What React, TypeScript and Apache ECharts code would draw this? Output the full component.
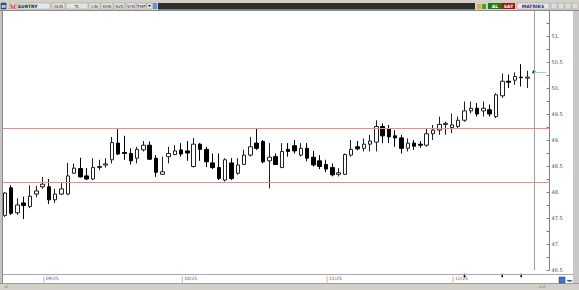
import React, { useEffect, useRef } from 'react';
import * as echarts from 'echarts';

const categories = [
  '22.08', '25.08', '26.08', '27.08', '28.08', '29.08',
  '01.09', '02.09', '03.09', '04.09', '05.09', '08.09', '09.09', '10.09', '11.09', '12.09', '15.09',
  '16.09', '17.09', '18.09', '19.09', '22.09', '23.09', '24.09', '25.09', '26.09', '29.09', '30.09',
  '01.10', '02.10', '03.10', '06.10', '07.10', '08.10', '09.10', '10.10', '13.10', '14.10', '15.10',
  '16.10', '17.10', '20.10', '21.10', '22.10', '23.10', '24.10', '27.10', '28.10', '29.10', '30.10', '31.10',
  '03.11', '04.11', '05.11', '06.11', '07.11', '10.11', '11.11', '12.11', '13.11', '14.11', '17.11',
  '18.11', '19.11', '20.11', '21.11', '24.11', '25.11', '26.11', '27.11', '28.11',
  '01.12', '02.12', '03.12', '04.12', '05.12', '08.12', '09.12', '10.12', '11.12', '12.12', '15.12',
  '16.12', '17.12', '18.12', '19.12', '22.12',
];

const opens = [
  47.55, 48.08, 47.6, 47.79, 47.72, 47.96,
  48.1, 48.1, 47.85, 47.96, 47.96, 48.36, 48.45, 48.31, 48.25, 48.47, 48.52,
  48.62, 48.94, 48.76, 48.74, 48.65, 48.81, 48.9, 48.65, 48.34, 48.68, 48.72,
  48.81, 48.79, 48.49, 48.92, 48.82, 48.56, 48.47, 48.23, 48.56, 48.36, 48.53,
  48.71, 48.94, 48.97, 48.6, 48.68, 48.47, 48.82, 48.89, 48.71, 48.84, 48.67, 48.6,
  48.53, 48.47, 48.34, 48.34, 48.71, 48.87, 48.84, 48.92, 48.96, 49.26, 49.21,
  49.08, 49.04, 48.84, 48.94, 48.92, 48.9, 49.12, 49.19, 49.3,
  49.24, 49.26, 49.38, 49.56, 49.61, 49.56, 49.58, 49.45, 49.85, 50.13, 50.15,
  50.21, 50.19, 50.3,
];
const closes = [
  47.98, 47.59, 47.75, 47.74, 47.92, 48.02,
  48.15, 47.85, 47.96, 48.06, 48.31, 48.46, 48.29, 48.25, 48.47, 48.49, 48.54,
  48.95, 48.73, 48.74, 48.6, 48.82, 48.9, 48.63, 48.38, 48.39, 48.74, 48.79,
  48.73, 48.75, 48.92, 48.82, 48.58, 48.47, 48.26, 48.62, 48.26, 48.52, 48.71,
  48.87, 48.84, 48.58, 48.67, 48.53, 48.78, 48.78, 48.79, 48.84, 48.65, 48.52, 48.49,
  48.44, 48.33, 48.37, 48.72, 48.82, 48.83, 48.92, 48.98, 49.26, 49.08, 49.06,
  49.04, 48.84, 48.94, 48.88, 48.9, 49.12, 49.19, 49.3, 49.32,
  49.29, 49.38, 49.56, 49.61, 49.5, 49.61, 49.5, 49.87, 50.13, 50.11, 50.22,
  50.2, 50.21, 50.31,
];
const lows = [
  47.52, 47.56, 47.56, 47.48, 47.69, 47.9,
  48.06, 47.77, 47.79, 47.94, 47.94, 48.35, 48.28, 48.23, 48.23, 48.42, 48.47,
  48.55, 48.71, 48.62, 48.53, 48.55, 48.78, 48.62, 48.29, 48.33, 48.55, 48.71,
  48.68, 48.6, 48.47, 48.6, 48.48, 48.44, 48.23, 48.2, 48.23, 48.33, 48.52,
  48.68, 48.81, 48.55, 48.07, 48.52, 48.46, 48.68, 48.74, 48.68, 48.59, 48.49, 48.44,
  48.38, 48.3, 48.3, 48.33, 48.68, 48.8, 48.78, 48.78, 48.78, 48.94, 48.94,
  48.87, 48.74, 48.78, 48.81, 48.85, 48.87, 49.0, 49.1, 49.1,
  49.13, 49.21, 49.35, 49.51, 49.45, 49.45, 49.45, 49.42, 49.81, 50.0, 50.06,
  50.03, 50.0, 50.28,
];
const highs = [
  48.0, 48.13, 47.88, 47.91, 48.13, 48.12,
  48.29, 48.25, 48.06, 48.17, 48.56, 48.55, 48.66, 48.46, 48.65, 48.62, 48.65,
  49.06, 49.21, 49.08, 48.84, 48.87, 48.98, 48.97, 48.71, 48.68, 48.87, 48.9,
  48.94, 48.98, 49.04, 48.94, 48.87, 48.74, 48.74, 48.65, 48.65, 48.65, 48.81,
  49.06, 49.22, 49.0, 48.94, 48.74, 48.94, 48.94, 49.0, 48.94, 48.94, 48.79, 48.71,
  48.62, 48.55, 48.46, 48.74, 49.0, 48.98, 49.03, 49.1, 49.38, 49.32, 49.29,
  49.19, 49.1, 49.03, 49.0, 48.98, 49.22, 49.29, 49.45, 49.35,
  49.51, 49.45, 49.74, 49.74, 49.71, 49.74, 49.68, 49.9, 50.28, 50.26, 50.3,
  50.46, 50.33, 50.34,
];

const monthTicks: Record<string, string> = {
  '01.09': '09/25',
  '01.10': '10/25',
  '03.11': '11/25',
  '01.12': '12/25',
};

const resistance = 49.23;
const support = 48.19;
const lastPrice = 50.31;
const lastBar = '18.12';
const eventDays = ['03.12', '11.12', '16.12'];

const yMin = 46.5;
const yMax = 51.5;
const yStep = 0.5;

const toolbarButtons: [number, number, string][] = [
  [52, 13, 'GUN'],
  [66, 22, 'TL'],
  [89, 11, 'LIN'],
  [101, 12, 'KHN'],
  [114, 11, 'SVD'],
  [126, 10, 'SYN'],
  [137, 9, 'TMP'],
];

const FONT = 'DejaVu Sans';

function buildGraphic() {
  const els: any[] = [];
  // frame
  els.push({ type: 'rect', z: -10, silent: true, shape: { x: 0, y: 0, width: 579, height: 290 }, style: { fill: '#d4d0c8' } });
  els.push({ type: 'rect', z: -9, silent: true, shape: { x: 3, y: 11, width: 570, height: 272 }, style: { fill: '#ffffff' } });
  els.push({ type: 'line', z: 50, silent: true, shape: { x1: 0, y1: 10.5, x2: 579, y2: 10.5 }, style: { stroke: '#8a8a8a', lineWidth: 1 } });
  els.push({ type: 'rect', z: 50, silent: true, shape: { x: 0, y: 11, width: 3, height: 279 }, style: { fill: '#c4c4c4' } });
  els.push({ type: 'line', z: 50, silent: true, shape: { x1: 2.5, y1: 11, x2: 2.5, y2: 283 }, style: { stroke: '#8a8a8a', lineWidth: 1 } });
  els.push({ type: 'rect', z: 50, silent: true, shape: { x: 573, y: 11, width: 6, height: 279 }, style: { fill: '#c8c8c8' } });
  els.push({ type: 'line', z: 50, silent: true, shape: { x1: 3, y1: 274.5, x2: 573, y2: 274.5 }, style: { stroke: '#a8a8a8', lineWidth: 1 } });
  els.push({ type: 'rect', z: 50, silent: true, shape: { x: 0, y: 283, width: 579, height: 7 }, style: { fill: '#d4d0c8' } });
  els.push({ type: 'line', z: 50, silent: true, shape: { x1: 0, y1: 283.5, x2: 579, y2: 283.5 }, style: { stroke: '#9a9a9a', lineWidth: 1 } });

  // toolbar
  els.push({ type: 'rect', z: 50, silent: true, shape: { x: 1, y: 3, width: 5, height: 6 }, style: { fill: '#2850b0', stroke: '#1a3070', lineWidth: 0.5 } });
  els.push({ type: 'text', z: 51, silent: true, x: 3.5, y: 6, style: { text: 'M', fill: '#ffffff', fontSize: 4, fontFamily: FONT, fontWeight: 'bold', align: 'center', verticalAlign: 'middle' } });
  els.push({ type: 'text', z: 51, silent: true, x: 12.5, y: 6, style: { text: 'ℳ', fill: '#d02020', fontSize: 6, fontFamily: FONT, fontWeight: 'bold', align: 'center', verticalAlign: 'middle' } });
  els.push({ type: 'rect', z: 50, silent: true, shape: { x: 17, y: 3, width: 33, height: 6 }, style: { fill: '#e8e8e8', stroke: '#9a9a9a', lineWidth: 0.5 } });
  els.push({ type: 'text', z: 51, silent: true, x: 18, y: 6, style: { text: 'EURTRY', fill: '#202020', fontSize: 4.5, fontFamily: FONT, fontWeight: 'bold', align: 'left', verticalAlign: 'middle' } });
  toolbarButtons.forEach(([x, w, t]) => {
    els.push({ type: 'rect', z: 50, silent: true, shape: { x, y: 3, width: w, height: 6 }, style: { fill: '#e4e4e4', stroke: '#9a9a9a', lineWidth: 0.5 } });
    els.push({ type: 'text', z: 51, silent: true, x: x + w / 2, y: 6, style: { text: t, fill: '#303030', fontSize: 4, fontFamily: FONT, align: 'center', verticalAlign: 'middle' } });
  });
  els.push({ type: 'rect', z: 50, silent: true, shape: { x: 147, y: 3, width: 5, height: 6 }, style: { fill: '#e4e4e4', stroke: '#9a9a9a', lineWidth: 0.5 } });
  els.push({ type: 'polygon', z: 51, silent: true, shape: { points: [[148, 5], [151, 5], [149.5, 7]] }, style: { fill: '#202060' } });
  els.push({ type: 'rect', z: 50, silent: true, shape: { x: 153, y: 3, width: 4, height: 6 }, style: { fill: '#5a9ad8' } });
  els.push({ type: 'rect', z: 50, silent: true, shape: { x: 158, y: 3, width: 317, height: 6.5 }, style: { fill: '#2e2e2e' } });
  els.push({ type: 'rect', z: 50, silent: true, shape: { x: 477, y: 4, width: 4, height: 5 }, style: { fill: '#e0b020' } });
  els.push({ type: 'rect', z: 50, silent: true, shape: { x: 482, y: 4, width: 4, height: 5 }, style: { fill: '#40a040' } });
  els.push({ type: 'rect', z: 50, silent: true, shape: { x: 488, y: 3, width: 14, height: 6 }, style: { fill: '#1f7a1f' } });
  els.push({ type: 'text', z: 51, silent: true, x: 495, y: 6, style: { text: 'AL', fill: '#ffffff', fontSize: 4.5, fontFamily: FONT, fontWeight: 'bold', align: 'center', verticalAlign: 'middle' } });
  els.push({ type: 'rect', z: 50, silent: true, shape: { x: 502, y: 3, width: 13, height: 6 }, style: { fill: '#a01414' } });
  els.push({ type: 'text', z: 51, silent: true, x: 508.5, y: 6, style: { text: 'SAT', fill: '#ffffff', fontSize: 4.5, fontFamily: FONT, fontWeight: 'bold', align: 'center', verticalAlign: 'middle' } });
  els.push({ type: 'rect', z: 50, silent: true, shape: { x: 517, y: 3, width: 32, height: 6 }, style: { fill: '#e8e8e8', stroke: '#9a9a9a', lineWidth: 0.5 } });
  els.push({ type: 'text', z: 51, silent: true, x: 533, y: 6, style: { text: 'MATRIKS', fill: '#1c2a80', fontSize: 4.5, fontFamily: FONT, fontWeight: 'bold', align: 'center', verticalAlign: 'middle' } });
  [551, 558, 565, 572].forEach((x) => {
    els.push({ type: 'rect', z: 50, silent: true, shape: { x, y: 3, width: 6, height: 6 }, style: { fill: '#dcdcdc', stroke: '#a0a0a0', lineWidth: 0.5 } });
  });

  // bottom bar bits
  els.push({ type: 'text', z: 51, silent: true, x: 4, y: 286.5, style: { text: '.ıl', fill: '#606060', fontSize: 4, fontFamily: FONT, align: 'left', verticalAlign: 'middle' } });
  els.push({ type: 'text', z: 51, silent: true, x: 538, y: 286.5, style: { text: '.ıl.ıl', fill: '#606060', fontSize: 4, fontFamily: FONT, align: 'left', verticalAlign: 'middle' } });
  els.push({ type: 'rect', z: 51, silent: true, shape: { x: 559, y: 277, width: 6, height: 6 }, style: { fill: '#3a78c8', stroke: '#1a3a80', lineWidth: 0.5 } });
  els.push({ type: 'text', z: 51, silent: true, x: 566, y: 280, style: { text: '◄►', fill: '#2a3a90', fontSize: 4.5, fontFamily: FONT, align: 'left', verticalAlign: 'middle' } });
  return els;
}

export default function App() {
  const ref = useRef<HTMLDivElement>(null);

  useEffect(() => {
    if (!ref.current) return;
    const chart = echarts.init(ref.current, undefined, { renderer: 'svg' });
    const data = opens.map((o, i) => [o, closes[i], lows[i], highs[i]]);
    chart.setOption({
      animation: false,
      backgroundColor: '#ffffff',
      graphic: { elements: buildGraphic() },
      grid: { left: 1.7, right: 29.5, top: 10, bottom: 20 },
      xAxis: {
        type: 'category',
        data: categories,
        boundaryGap: true,
        axisLine: { show: false },
        axisTick: { show: false },
        splitLine: { show: false },
        offset: 4,
        axisLabel: {
          interval: (_i: number, v: string) => v in monthTicks,
          formatter: (v: string) => (monthTicks[v] ? `{p||}{t|${monthTicks[v]}}` : ''),
          align: 'left',
          margin: 1,
          rich: {
            p: { color: '#707070', fontSize: 6, fontFamily: FONT },
            t: { color: '#505050', fontSize: 4.5, fontFamily: FONT, padding: [0, 0, 0, 1] },
          },
        },
      },
      yAxis: {
        type: 'value',
        position: 'right',
        min: yMin,
        max: yMax,
        interval: yStep,
        scale: true,
        axisLine: { show: true, lineStyle: { color: '#808080', width: 1 } },
        axisTick: { show: true, inside: true, length: 3, lineStyle: { color: '#808080' } },
        minorTick: { show: true, splitNumber: 2, length: 3, lineStyle: { color: '#808080' } },
        splitLine: { show: false },
        axisLabel: {
          showMaxLabel: false,
          margin: 2,
          color: '#505050',
          fontSize: 5,
          fontFamily: FONT,
          formatter: (v: number) => (Math.abs(v - Math.round(v)) < 1e-9 ? `${Math.round(v)}.` : v.toFixed(1)),
        },
      },
      series: [
        {
          type: 'candlestick',
          data,
          barWidth: 4,
          itemStyle: {
            color: '#ffffff',
            color0: '#000000',
            borderColor: '#202020',
            borderColor0: '#000000',
            borderWidth: 1,
          },
          markLine: {
            silent: true,
            symbol: ['none', 'none'],
            label: { show: false },
            animation: false,
            data: [
              { yAxis: resistance, symbol: 'none', lineStyle: { color: '#f28a8a', width: 1, type: 'solid' } },
              { yAxis: support, symbol: 'none', lineStyle: { color: '#f28a8a', width: 1, type: 'solid' } },
              { xAxis: lastBar, symbol: 'none', lineStyle: { color: '#a0a0a0', width: 1, type: 'solid' } },
              [
                { coord: [lastBar, lastPrice], symbol: 'none', lineStyle: { color: '#7fdede', width: 1, type: 'solid' } },
                { coord: [categories[categories.length - 1], lastPrice], symbol: 'none' },
              ],
            ],
          },
          markPoint: {
            silent: true,
            symbol: 'rect',
            symbolSize: [1.5, 3.5],
            symbolOffset: [0, 5.5],
            label: { show: false },
            itemStyle: { color: '#000000' },
            data: eventDays.map((d) => ({ coord: [d, yMin] })),
          },
        },
      ],
    });
    return () => chart.dispose();
  }, []);

  return <div ref={ref} style={{ position: 'fixed', left: 0, top: 0, width: 579, height: 290 }} />;
}
